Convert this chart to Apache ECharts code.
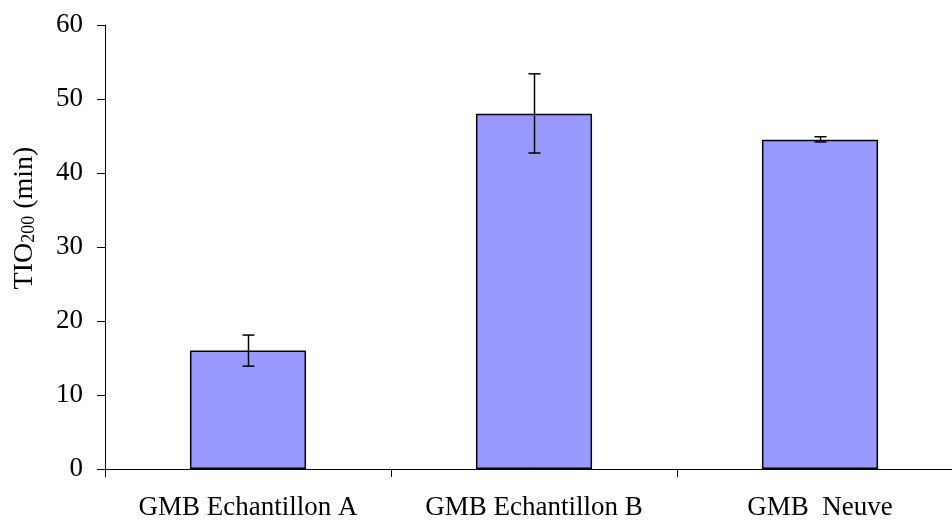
<!DOCTYPE html>
<html><head><meta charset="utf-8">
<script src="https://cdn.jsdelivr.net/npm/echarts@6/dist/echarts.min.js"></script>
<style>html,body{margin:0;padding:0;background:#fff;overflow:hidden}#c{width:963px;height:521px}</style>
</head><body><div id="c"></div>
<script>
var categories = ['GMB Echantillon A', 'GMB Echantillon B', 'GMB  Neuve'];
var values = [16.0, 48.0, 44.5];
var errLow = [13.9, 42.7, 44.2];
var errHigh = [18.1, 53.4, 44.9];
var yTicks = [0, 10, 20, 30, 40, 50, 60];

var font = '"Liberation Serif", "Times New Roman", serif';
var chart = echarts.init(document.getElementById('c'));
chart.setOption({
  animation: false,
  grid: {left: 105, right: 0, top: 25, bottom: 51},
  xAxis: {
    type: 'category', data: categories,
    axisLine: {lineStyle: {color: '#000', width: 1}},
    axisTick: {show: true, length: 8, lineStyle: {color: '#000'}},
    axisLabel: {color: '#000', fontFamily: font, fontSize: 27, margin: 25}
  },
  yAxis: {
    type: 'value', min: yTicks[0], max: yTicks[yTicks.length-1], interval: 10,
    name: 'TIO{s|200} (min)', nameLocation: 'middle', nameRotate: 90, nameGap: 66,
    nameTextStyle: {color: '#000', fontFamily: font, fontSize: 28, padding: [0, 0, 0, 58],
      rich: {s: {fontFamily: font, fontSize: 18, color: '#000', padding: [8,0,0,0]}}},
    axisLine: {show: true, lineStyle: {color: '#000', width: 1}},
    axisTick: {show: true, length: 8, lineStyle: {color: '#000'}},
    splitLine: {show: false},
    axisLabel: {color: '#000', fontFamily: font, fontSize: 27, margin: 22}
  },
  series: [{
    type: 'bar', data: values, barWidth: '40.6%',
    itemStyle: {color: '#9999FF', borderColor: '#000', borderWidth: 1.5}
  }, {
    type: 'custom',
    data: categories.map(function(c, i){ return [i, errLow[i], errHigh[i]]; }),
    renderItem: function(params, api){
      var lo = api.coord([api.value(0), api.value(1)]);
      var hi = api.coord([api.value(0), api.value(2)]);
      var x = Math.round(lo[0]) + 0.5, hw = 6;
      var st = {stroke: '#000', lineWidth: 1.5};
      return {type: 'group', children: [
        {type: 'line', shape: {x1: x, y1: hi[1], x2: x, y2: lo[1]}, style: st},
        {type: 'line', shape: {x1: x-hw, y1: hi[1], x2: x+hw, y2: hi[1]}, style: st},
        {type: 'line', shape: {x1: x-hw, y1: lo[1], x2: x+hw, y2: lo[1]}, style: st}
      ]};
    },
    z: 5
  }]
});
</script></body></html>
